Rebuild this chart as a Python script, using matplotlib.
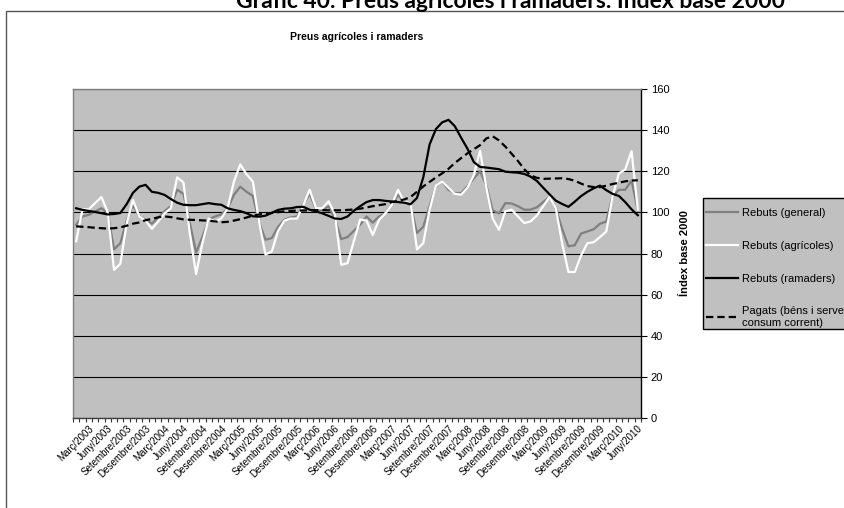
import matplotlib
matplotlib.use("Agg")
import matplotlib.pyplot as plt
from matplotlib.patches import Rectangle
from matplotlib.ticker import MultipleLocator, FixedLocator, FixedFormatter

plt.rcParams['font.family'] = ['Liberation Sans', 'DejaVu Sans']

tick_labels = [
    "Març/2003", "Juny/2003", "Setembre/2003", "Desembre/2003",
    "Març/2004", "Juny/2004", "Setembre/2004", "Desembre/2004",
    "Març/2005", "Juny/2005", "Setembre/2005", "Desembre/2005",
    "Març/2006", "Juny/2006", "Setembre/2006", "Desembre/2006",
    "Març/2007", "Juny/2007", "Setembre/2007", "Desembre/2007",
    "Març/2008", "Juny/2008", "Setembre/2008", "Desembre/2008",
    "Març/2009", "Juny/2009", "Setembre/2009", "Desembre/2009",
    "Març/2010", "Juny/2010",
]

# monthly values, Jan 2003 .. Jun 2010
general = [94, 98, 98.8, 100.5, 102, 99.7, 82, 85, 96, 103.5,
           98, 96.5, 94.5, 97.5, 100.5, 103, 111, 109, 95, 80.5,
           88, 96.5, 98, 99, 102, 108.5, 112.5, 110, 108, 95,
           86.7, 87.5, 93, 96.5, 97.5, 98, 104, 109, 101.5, 101,
           103, 97, 87, 88, 91, 94, 98, 95, 98, 99.7,
           103.5, 108.5, 105, 103.5, 90, 93, 103, 112.7, 115, 111,
           109.4, 109.4, 112.7, 116.5, 120, 113, 101, 99.5, 104.5, 104.3,
           103, 101.3, 101.3, 102.5, 105, 107.5, 102, 92, 83.5, 84,
           89.7, 90.7, 91.8, 94.5, 95.5, 107.8, 111, 111, 115.5, 101]

agricoles = [86, 101.5, 101.5, 104.5, 107.5, 100, 72, 75, 94.5, 106,
             98, 96, 92, 95.6, 99.5, 102, 117, 114.6, 90, 70,
             85, 97, 95.5, 97, 102, 115, 123.3, 118.5, 115, 95,
             79.5, 81, 91, 96, 97, 97, 103.5, 111, 102, 102,
             105.4, 99, 74.5, 75.3, 86, 96.5, 96, 89, 96.4, 99.5,
             103.5, 111, 105, 104.5, 82, 85, 101.3, 113, 115, 112,
             109, 108.6, 112, 118, 130, 112, 97, 91.5, 100.5, 101.3,
             98, 94.8, 95.6, 98.5, 103, 107.5, 102, 85, 71, 71,
             79, 85, 85.5, 88, 90.7, 107.8, 119, 120.8, 129.8, 101.3]

ramaders = [102, 101.2, 100.7, 100.2, 99.6, 99, 99.2, 99.7, 104, 109.5,
            112.5, 113.4, 110, 109.5, 108.5, 106.5, 104.7, 103.7, 103.5, 103.5,
            104, 104.5, 104, 103.7, 102, 101.2, 100.6, 99.6, 98.1, 97.9,
            98.4, 99.8, 101.2, 101.8, 102, 102.6, 102.7, 101.3, 100.5, 99.5,
            98.3, 97, 96.8, 98, 100.8, 103, 105, 106, 106, 105.6,
            105.3, 105, 104.7, 104, 107, 117, 133, 140.5, 143.8, 145,
            141.9, 136.3, 131, 124.5, 122.1, 121.8, 121.4, 121, 119.8, 119.5,
            119.3, 118.7, 117.4, 115.3, 112, 108.8, 105.7, 104.1, 102.7, 105.2,
            107.9, 110, 111.7, 113, 110.8, 109, 108, 105, 101.5, 98.6]

pagats = [93.2, 93, 92.8, 92.5, 92.3, 92.1, 92.3, 92.7, 93.5, 94.5,
          95.1, 96.2, 96.8, 97.6, 98, 97.7, 97.1, 96.6, 96.4, 96.3,
          96.1, 96, 95.6, 95.2, 95.4, 96, 96.7, 97.5, 98.4, 99,
          99.4, 99.7, 100.1, 100.5, 100.7, 100.9, 100.9, 101, 101.1, 101.1,
          101, 101, 101, 101.2, 101.4, 101.8, 102.4, 103, 103.5, 104,
          105, 105.6, 106.3, 107.5, 110, 112.6, 114.8, 117, 119, 121.2,
          124, 126.4, 128.7, 130.7, 132.7, 136, 137, 135, 132, 128.5,
          125, 121, 118, 116.8, 116.3, 116.4, 116.5, 116.6, 116.2, 115.4,
          114, 112.8, 112.3, 112.3, 113, 113.8, 114.4, 115.1, 115.5, 115.6]

legend_labels = ["Rebuts (general)", "Rebuts (agrícoles)", "Rebuts (ramaders)",
                 "Pagats (béns i serveis de\nconsum corrent)"]

W, H = 845, 508
fig = plt.figure(figsize=(W / 100, H / 100), dpi=100)
fig.patch.set_facecolor('white')

# outer chart frame
fig.patches.append(Rectangle((6 / W, -0.1), 1.2, (H - 11) / H + 0.1,
                             transform=fig.transFigure, fill=False,
                             edgecolor='#555555', linewidth=1.0, zorder=0))

fig.text(511 / W, 1.0 + 1 / H, "Gràfic 40. Preus agrícoles i ramaders. Índex base 2000",
         ha='center', va='center', fontsize=16.5, fontweight='bold',
         family=['Lato', 'DejaVu Sans'])

ax = fig.add_axes([73 / W, (H - 418) / H, (641 - 73) / W, (418 - 89) / H])
ax.set_facecolor('#C0C0C0')

x = list(range(len(general)))
ax.plot(x, general, color='#808080', lw=1.6, label=legend_labels[0], zorder=3)
ax.plot(x, agricoles, color='white', lw=1.6, label=legend_labels[1], zorder=4)
ax.plot(x, ramaders, color='black', lw=1.6, label=legend_labels[2], zorder=5)
ax.plot(x, pagats, color='black', lw=1.6, ls=(0, (3.3, 1.8)),
        label=legend_labels[3], zorder=5)

ax.set_xlim(-0.5, len(general) - 0.5)
ax.set_ylim(0, 160)

ax.yaxis.tick_right()
ax.yaxis.set_label_position('right')
ax.yaxis.set_major_locator(MultipleLocator(20))
ax.grid(axis='y', color='black', lw=0.8, zorder=1)
ax.set_axisbelow(True)
ax.tick_params(axis='y', which='major', direction='out', length=4, width=0.8,
               labelsize=8, pad=3, color='black')
ax.set_ylabel("Índex base 2000", fontsize=8, fontweight='bold', labelpad=8)

label_pos = [2 + 3 * k for k in range(len(tick_labels))]
ax.xaxis.set_major_locator(FixedLocator(label_pos))
ax.xaxis.set_major_formatter(FixedFormatter(tick_labels))
ax.xaxis.set_minor_locator(FixedLocator([k - 0.5 for k in range(len(general) + 1)]))
ax.tick_params(axis='x', which='major', length=0, labelsize=7, pad=4)
ax.tick_params(axis='x', which='minor', length=3, width=0.8, direction='out', color='#333333')
for lab in ax.get_xticklabels():
    lab.set_rotation(45)
    lab.set_ha('right')
    lab.set_rotation_mode('anchor')

for side in ['top', 'left']:
    ax.spines[side].set_color('#808080')
    ax.spines[side].set_linewidth(1.0)
ax.spines['right'].set_color('black')
ax.spines['right'].set_linewidth(1.0)
ax.spines['bottom'].set_color('#404040')
ax.spines['bottom'].set_linewidth(1.0)

fig.text(357 / W, 1 - 37 / H, "Preus agrícoles i ramaders", ha='center', va='center',
         fontsize=7.5, fontweight='bold')

# legend box (drawn explicitly, it runs past the right edge like the reference)
fig.patches.append(Rectangle((703 / W, (H - 329) / H), 0.3, 131 / H,
                             transform=fig.transFigure, facecolor='#C0C0C0',
                             edgecolor='black', linewidth=1.0, zorder=1))
leg = fig.legend(loc='upper left', bbox_to_anchor=(706 / W, (H - 208) / H),
                 fontsize=8, frameon=False, handlelength=2.9,
                 labelspacing=2.05, borderpad=0.0, borderaxespad=0.0,
                 handletextpad=0.35)
leg.set_zorder(2)

fig.savefig("out.png", dpi=100)
